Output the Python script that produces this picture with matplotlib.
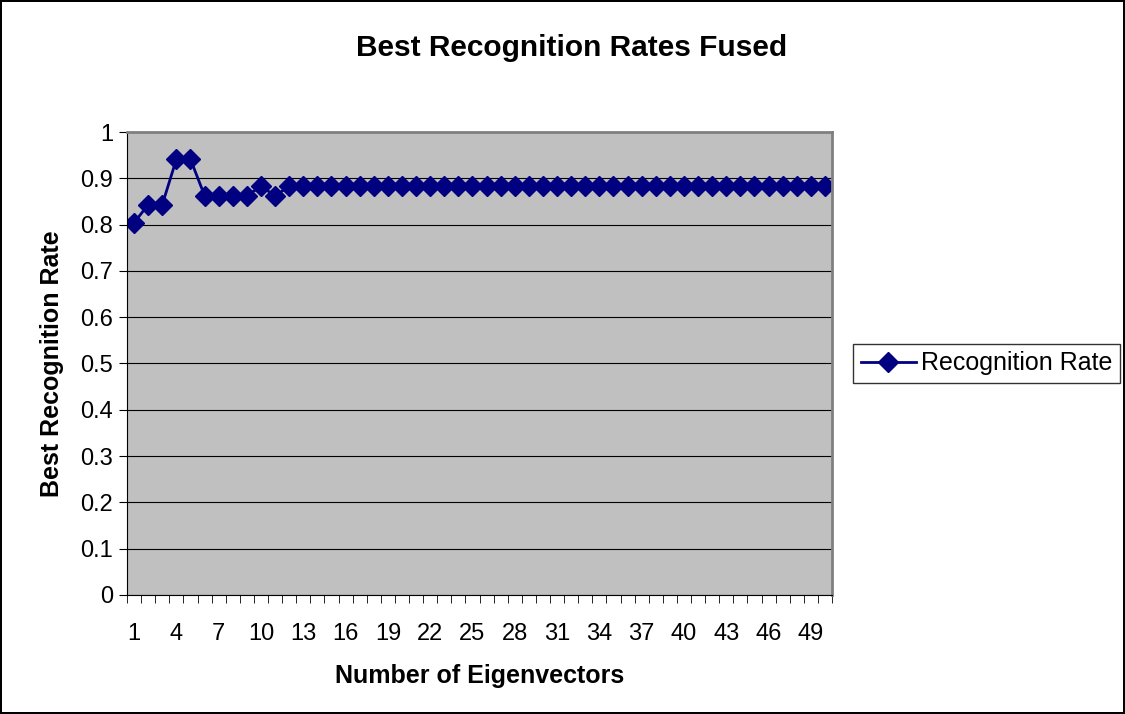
import numpy as np
import matplotlib.pyplot as plt

plt.rcParams['font.family'] = ['Liberation Sans', 'DejaVu Sans']

# number of eigenvectors and best recognition rate
eigenvectors = list(range(1, 51))
rates = [0.8039, 0.8431, 0.8431, 0.9412, 0.9412, 0.8627, 0.8627, 0.8627, 0.8627, 0.8824,
         0.8627] + [0.8824] * 39
tick_labels = [str(i) for i in range(1, 51, 3)]

fig = plt.figure(figsize=(11.25, 7.14), dpi=100)
fig.patch.set_edgecolor('black')
fig.patch.set_linewidth(1.5)
ax = fig.add_axes([0.1129, 0.1667, 0.6267, 0.6484])
ax.set_facecolor('#c0c0c0')

ax.plot(eigenvectors, rates, color='#000080', marker='D', markersize=10.5,
        linewidth=2, label='Recognition Rate')

ax.set_xlim(0.5, 50.5)
ax.set_ylim(0, 1)
ax.set_yticks(np.arange(0, 1.01, 0.1))
ax.set_yticklabels(['0', '0.1', '0.2', '0.3', '0.4', '0.5', '0.6', '0.7', '0.8', '0.9', '1'])
ax.set_xticks(range(1, 51, 3))
ax.set_xticklabels(tick_labels)
ax.set_xticks(np.arange(0.5, 51, 1), minor=True)
ax.tick_params(axis='x', which='major', length=0, pad=20, labelsize=17)
ax.tick_params(axis='x', which='minor', length=6, direction='out', color='black')
ax.tick_params(axis='y', length=6, direction='out', labelsize=17, pad=4)
ax.grid(axis='y', color='black', linewidth=0.8)
ax.set_axisbelow(True)

for s in ['top', 'right']:
    ax.spines[s].set_color('#808080')
    ax.spines[s].set_linewidth(2)
for s in ['left', 'bottom']:
    ax.spines[s].set_color('black')

fig.suptitle('Best Recognition Rates Fused', fontsize=21.5, fontweight='bold',
             x=0.508, y=0.933, va='center')
ax.set_xlabel('Number of Eigenvectors', fontsize=18, fontweight='bold', labelpad=14)
ax.set_ylabel('Best Recognition Rate', fontsize=18, fontweight='bold', labelpad=12)

leg = ax.legend(loc='center left', bbox_to_anchor=(1.03, 0.5), fontsize=18,
                frameon=True, fancybox=False, edgecolor='black', borderpad=0.3,
                handlelength=2.2, handletextpad=0.2, borderaxespad=0)
leg.get_frame().set_linewidth(1)

fig.savefig('out.png', dpi=100, edgecolor=fig.get_edgecolor())
